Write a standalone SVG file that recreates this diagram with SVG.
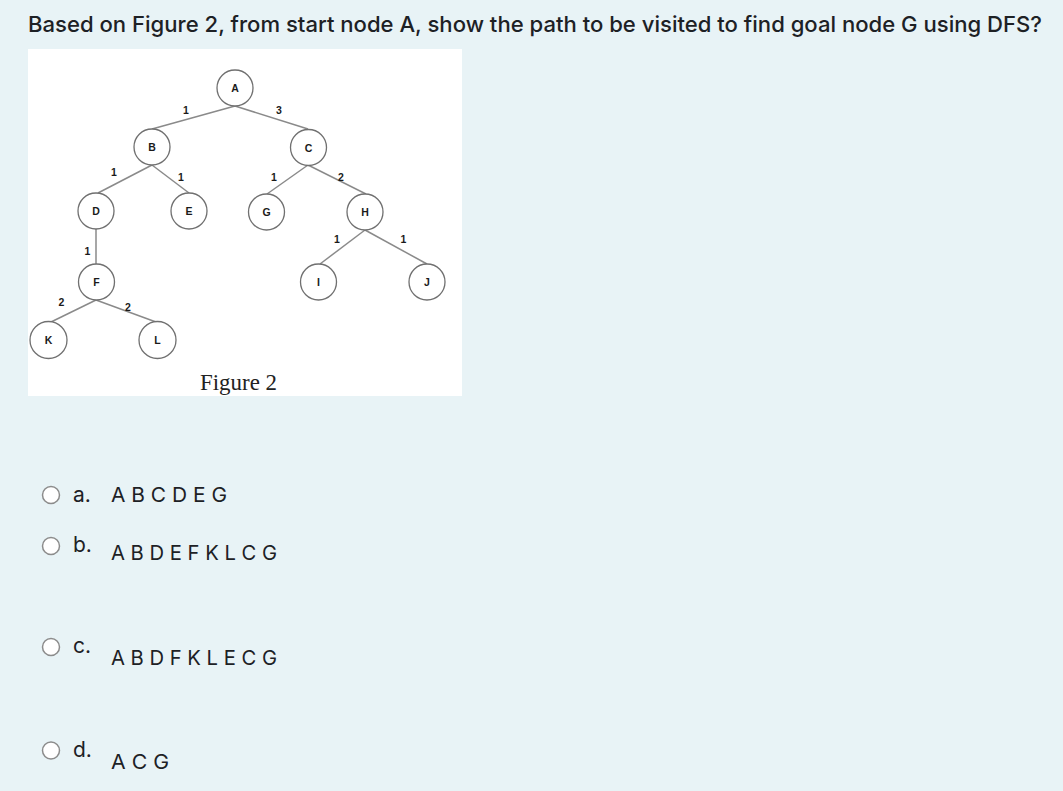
<svg xmlns="http://www.w3.org/2000/svg" width="1063" height="791" viewBox="0 0 1063 791">
<defs>
<style>
.q{font-family:Inter,"Noto Sans","Liberation Sans",sans-serif;fill:#1d2125}
.node circle{fill:#fff;stroke:#707070;stroke-width:1.3}
.node text{font-family:"Liberation Sans",Arial,sans-serif;font-weight:bold;font-size:10.5px;fill:#1a1a1a;text-anchor:middle}
.edges line{stroke:#8a8a8a;stroke-width:1.5}
.w{font-family:"Liberation Sans",Arial,sans-serif;font-weight:bold;font-size:10.5px;fill:#1a1a1a;text-anchor:middle}
.radio{fill:#fff;stroke:#8c8c8c;stroke-width:1.5}
</style>
</defs>
<rect width="1063" height="791" fill="#e8f3f6"/>
<text class="q" x="28" y="32" font-size="22" font-weight="500" textLength="1014" lengthAdjust="spacingAndGlyphs">Based on Figure 2, from start node A, show the path to be visited to find goal node G using DFS?</text>
<rect x="28" y="49" width="434" height="347" fill="#fff"/>
<g class="edges">
<line x1="235" y1="106" x2="152" y2="129"/>
<line x1="235" y1="106" x2="308" y2="129"/>
<line x1="152" y1="165" x2="98" y2="193"/>
<line x1="152" y1="165" x2="189" y2="193"/>
<line x1="308" y1="165" x2="267" y2="194"/>
<line x1="308" y1="165" x2="366" y2="194"/>
<line x1="96" y1="229" x2="96" y2="264"/>
<line x1="96" y1="300" x2="51" y2="322"/>
<line x1="96" y1="300" x2="156" y2="322"/>
<line x1="365" y1="230" x2="320" y2="264"/>
<line x1="365" y1="230" x2="427" y2="264"/>
</g>
<g class="labels">
<text class="w" x="186" y="114">1</text>
<text class="w" x="279" y="114">3</text>
<text class="w" x="114" y="175.5">1</text>
<text class="w" x="181" y="181">1</text>
<text class="w" x="274" y="181">1</text>
<text class="w" x="341" y="180.5">2</text>
<text class="w" x="87.5" y="254.5">1</text>
<text class="w" x="61.5" y="306">2</text>
<text class="w" x="128" y="311">2</text>
<text class="w" x="337" y="243">1</text>
<text class="w" x="403.5" y="243">1</text>
</g>
<g id="node-A" class="node"><circle cx="235" cy="88" r="18"/><text x="235" y="92">A</text></g>
<g id="node-B" class="node"><circle cx="152" cy="147" r="18"/><text x="152" y="151">B</text></g>
<g id="node-C" class="node"><circle cx="308.5" cy="147.5" r="18"/><text x="308.5" y="151.5">C</text></g>
<g id="node-D" class="node"><circle cx="96" cy="211" r="18"/><text x="96" y="215">D</text></g>
<g id="node-E" class="node"><circle cx="189" cy="211" r="18"/><text x="189" y="215">E</text></g>
<g id="node-G" class="node"><circle cx="266.5" cy="212" r="18"/><text x="266.5" y="216">G</text></g>
<g id="node-H" class="node"><circle cx="365" cy="212" r="18"/><text x="365" y="216">H</text></g>
<g id="node-F" class="node"><circle cx="96.5" cy="282" r="18"/><text x="96.5" y="286">F</text></g>
<g id="node-I" class="node"><circle cx="318.5" cy="282" r="18"/><text x="318.5" y="286">I</text></g>
<g id="node-J" class="node"><circle cx="427" cy="282" r="18"/><text x="427" y="286">J</text></g>
<g id="node-K" class="node"><circle cx="48.5" cy="340" r="18.5"/><text x="48.5" y="344">K</text></g>
<g id="node-L" class="node"><circle cx="157.5" cy="340" r="18.5"/><text x="157.5" y="344">L</text></g>
<text x="200" y="390" font-family="'Liberation Serif','Times New Roman',serif" font-size="23" fill="#222" textLength="77" lengthAdjust="spacingAndGlyphs">Figure 2</text>
<g id="option-a">
<circle class="radio" cx="51" cy="495" r="8.5"/>
<text class="q" x="73" y="501.5" font-size="21">a.</text>
<text class="q" x="111" y="501.5" font-size="20" textLength="116" lengthAdjust="spacingAndGlyphs">A B C D E G</text>
</g>
<g id="option-b">
<circle class="radio" cx="51" cy="546" r="8.5"/>
<text class="q" x="73" y="551.5" font-size="21">b.</text>
<text class="q" x="111" y="560" font-size="20" textLength="166" lengthAdjust="spacingAndGlyphs">A B D E F K L C G</text>
</g>
<g id="option-c">
<circle class="radio" cx="51" cy="647" r="8.5"/>
<text class="q" x="73" y="653" font-size="21">c.</text>
<text class="q" x="111" y="665" font-size="20" textLength="166" lengthAdjust="spacingAndGlyphs">A B D F K L E C G</text>
</g>
<g id="option-d">
<circle class="radio" cx="51" cy="750.5" r="8.5"/>
<text class="q" x="73" y="756.5" font-size="21">d.</text>
<text class="q" x="111" y="768.5" font-size="20" textLength="58" lengthAdjust="spacingAndGlyphs">A C G</text>
</g>
</svg>
